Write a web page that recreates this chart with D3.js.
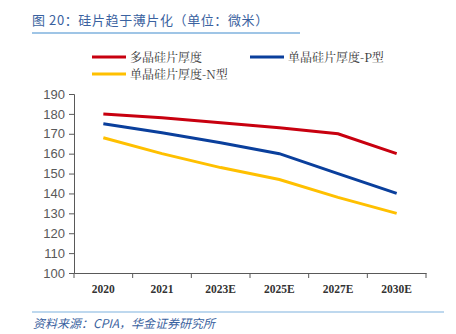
<!DOCTYPE html>
<html lang="zh">
<head>
<meta charset="utf-8">
<script src="https://cdn.jsdelivr.net/npm/d3@7"></script>
<style>
  body { margin: 0; background: #fff; }
</style>
</head>
<body>
<script>
var years = ["2020", "2021", "2023E", "2025E", "2027E", "2030E"];
var polySi = [180, 178, 175.5, 173, 170, 160];
var monoP = [175, 170.5, 165.5, 160, 150, 140];
var monoN = [168, 160, 153, 147, 138, 130];
var seriesNames = ["多晶硅片厚度", "单晶硅片厚度-P型", "单晶硅片厚度-N型"];
var colors = ["#c8000f", "#0a3f9c", "#ffc000"];
var yTicks = [100, 110, 120, 130, 140, 150, 160, 170, 180, 190];

var w = 456, h = 334;
var svg = d3.select("body").append("svg")
    .attr("width", w)
    .attr("height", h);

// title
svg.append("text")
    .attr("x", 32).attr("y", 25)
    .attr("fill", "#3a62a0")
    .style("font-family", "Noto Sans CJK SC, sans-serif")
    .style("font-size", "13px")
    .style("letter-spacing", "0.6px")
    .text("图 20：硅片趋于薄片化（单位：微米）");
svg.append("line")
    .attr("x1", 32).attr("x2", 300).attr("y1", 33).attr("y2", 33)
    .attr("stroke", "#7fb2de").attr("stroke-width", 1.5);

var x = d3.scaleBand().domain(years).range([74, 426]);
var y = d3.scaleLinear().domain([100, 190]).range([273, 94]);

var yAxis = d3.axisLeft(y).tickValues(yTicks).tickSize(5).tickPadding(4);
var gy = svg.append("g")
    .attr("transform", "translate(74,0)")
    .call(yAxis);
gy.selectAll("text")
    .style("font-family", "Liberation Sans, Arial, sans-serif")
    .style("font-size", "13px")
    .attr("fill", "#595959");

var xAxis = d3.axisBottom(x).tickSize(0).tickPadding(12);
var gx = svg.append("g")
    .attr("transform", "translate(0,273)")
    .call(xAxis);
gx.selectAll("text")
    .style("font-family", "Liberation Serif, serif")
    .style("font-weight", "bold")
    .style("font-size", "11.5px")
    .attr("fill", "#333");
// tick marks between categories
var bounds = years.map(function(d) { return x(d); }).concat([x.range()[1]]);
gx.selectAll(".sep").data(bounds).enter().append("line")
    .attr("class", "sep")
    .attr("x1", function(d) { return d; })
    .attr("x2", function(d) { return d; })
    .attr("y1", 0).attr("y2", 5)
    .attr("stroke", "#595959");

svg.selectAll(".domain").attr("stroke", "#595959");
svg.selectAll(".tick line").attr("stroke", "#595959");

var line = d3.line()
    .x(function(d, i) { return x(years[i]) + x.bandwidth() / 2; })
    .y(function(d) { return y(d); });

[polySi, monoP, monoN].forEach(function(s, k) {
    svg.append("path")
        .datum(s)
        .attr("d", line)
        .attr("fill", "none")
        .attr("stroke", colors[k])
        .attr("stroke-width", 3);
});

// legend
var legendPos = [[92, 57], [250, 57], [92, 74]];
seriesNames.forEach(function(n, k) {
    var p = legendPos[k];
    svg.append("line")
        .attr("x1", p[0]).attr("x2", p[0] + 34)
        .attr("y1", p[1]).attr("y2", p[1])
        .attr("stroke", colors[k]).attr("stroke-width", 3);
    svg.append("text")
        .attr("x", p[0] + 38).attr("y", p[1] + 4.5)
        .attr("fill", "#333")
        .style("font-size", "12px")
        .style("font-family", "Noto Serif CJK SC, Liberation Serif, serif")
        .text(n);
});

// source
svg.append("line")
    .attr("x1", 32).attr("x2", 444).attr("y1", 312).attr("y2", 312)
    .attr("stroke", "#7fb2de").attr("stroke-width", 1.2);
svg.append("text")
    .attr("x", 33).attr("y", 328)
    .attr("fill", "#3a62a0")
    .style("font-family", "Noto Sans CJK SC, sans-serif")
    .style("font-size", "12px")
    .style("font-style", "italic")
    .text("资料来源：CPIA，华金证券研究所");
</script>
</body>
</html>
